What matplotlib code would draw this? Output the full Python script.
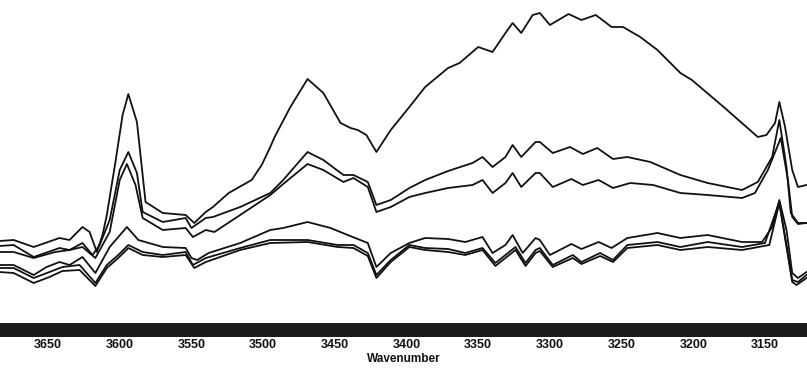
import matplotlib
matplotlib.use("Agg")
import matplotlib.pyplot as plt
from matplotlib import font_manager
from matplotlib.patches import Rectangle

# ---- data (wavenumber, absorbance-like arbitrary units) ----
wn_a = [3684, 3674, 3660, 3642, 3635, 3626, 3621, 3616, 3612, 3609, 3603, 3598, 3594, 3588, 3582,
        3570, 3554, 3548, 3540, 3535, 3524, 3508, 3501, 3495, 3492, 3481, 3469, 3458, 3446, 3439,
        3434, 3428, 3421, 3411, 3398, 3387, 3371, 3363, 3350, 3340, 3331, 3326, 3320, 3312, 3307,
        3300, 3287, 3278, 3268, 3257, 3249, 3237, 3225, 3209, 3201, 3178, 3155, 3149, 3143, 3140,
        3136, 3131, 3127, 3121]
ab_a = [0.89, 0.90, 0.83, 0.92, 0.90, 1.03, 0.98, 0.78, 0.95, 1.15, 1.68, 2.15, 2.36, 2.08, 1.28,
        1.17, 1.15, 1.07, 1.18, 1.23, 1.37, 1.50, 1.65, 1.83, 1.93, 2.23, 2.51, 2.37, 2.07, 2.02,
        2.00, 1.95, 1.78, 2.00, 2.23, 2.43, 2.62, 2.67, 2.83, 2.78, 2.97, 3.07, 2.97, 3.15, 3.17,
        3.05, 3.16, 3.10, 3.15, 3.03, 3.03, 2.93, 2.80, 2.57, 2.50, 2.22, 1.93, 1.95, 2.07, 2.28,
        2.03, 1.60, 1.43, 1.45]

wn_b = [3684, 3674, 3660, 3642, 3635, 3626, 3619, 3614, 3607, 3600, 3594, 3588, 3584, 3570, 3554,
        3550, 3540, 3535, 3516, 3495, 3486, 3469, 3458, 3444, 3437, 3427, 3421, 3411, 3398, 3387,
        3371, 3354, 3347, 3340, 3331, 3326, 3320, 3310, 3307, 3298, 3286, 3277, 3267, 3256, 3246,
        3230, 3209, 3190, 3166, 3155, 3145, 3140, 3135, 3132, 3127, 3121]
ab_b = [0.84, 0.85, 0.73, 0.82, 0.80, 0.87, 0.75, 0.85, 1.10, 1.60, 1.78, 1.57, 1.18, 1.08, 1.12,
        1.02, 1.12, 1.13, 1.23, 1.37, 1.50, 1.78, 1.70, 1.55, 1.55, 1.48, 1.25, 1.30, 1.42, 1.50,
        1.59, 1.67, 1.73, 1.63, 1.73, 1.85, 1.73, 1.88, 1.88, 1.77, 1.83, 1.76, 1.82, 1.71, 1.73,
        1.68, 1.55, 1.47, 1.40, 1.48, 1.73, 2.10, 1.63, 1.17, 1.07, 1.07]

wn_c = [3684, 3674, 3660, 3645, 3635, 3626, 3617, 3607, 3600, 3595, 3589, 3584, 3570, 3554, 3549,
        3540, 3534, 3516, 3495, 3486, 3469, 3458, 3444, 3437, 3427, 3421, 3411, 3398, 3387, 3371,
        3354, 3347, 3340, 3331, 3326, 3320, 3310, 3307, 3298, 3285, 3277, 3266, 3256, 3244, 3228,
        3209, 3190, 3166, 3157, 3148, 3139, 3134, 3131, 3127, 3121]
ab_c = [0.78, 0.78, 0.72, 0.78, 0.80, 0.83, 0.72, 0.98, 1.50, 1.66, 1.45, 1.12, 1.00, 1.02, 0.93,
        1.00, 0.98, 1.15, 1.35, 1.46, 1.66, 1.60, 1.48, 1.52, 1.43, 1.18, 1.23, 1.33, 1.37, 1.42,
        1.45, 1.50, 1.37, 1.47, 1.57, 1.43, 1.57, 1.57, 1.43, 1.51, 1.45, 1.50, 1.42, 1.47, 1.45,
        1.37, 1.35, 1.32, 1.37, 1.60, 1.92, 1.50, 1.13, 1.06, 1.07]

wn_d = [3684, 3674, 3660, 3651, 3642, 3635, 3626, 3617, 3607, 3595, 3587, 3570, 3554, 3550, 3546,
        3538, 3516, 3495, 3486, 3469, 3453, 3441, 3427, 3421, 3411, 3398, 3387, 3371, 3359, 3347,
        3340, 3331, 3326, 3319, 3310, 3307, 3300, 3285, 3278, 3266, 3257, 3246, 3225, 3209, 3190,
        3166, 3152, 3145, 3140, 3135, 3131, 3127, 3121]
ab_d = [0.65, 0.65, 0.55, 0.63, 0.68, 0.65, 0.73, 0.57, 0.83, 1.03, 0.90, 0.83, 0.82, 0.72, 0.70,
        0.77, 0.87, 1.00, 1.02, 1.08, 1.02, 0.95, 0.87, 0.63, 0.77, 0.87, 0.92, 0.91, 0.88, 0.93,
        0.77, 0.85, 0.95, 0.77, 0.92, 0.90, 0.75, 0.86, 0.81, 0.88, 0.82, 0.92, 0.97, 0.92, 0.95,
        0.88, 0.88, 1.03, 1.30, 1.00, 0.57, 0.52, 0.58]

wn_e = [3684, 3674, 3660, 3649, 3640, 3628, 3617, 3609, 3601, 3594, 3584, 3570, 3554, 3549, 3540,
        3516, 3495, 3469, 3448, 3437, 3427, 3421, 3411, 3398, 3387, 3371, 3359, 3347, 3338, 3331,
        3324, 3317, 3310, 3307, 3298, 3284, 3278, 3265, 3256, 3246, 3225, 3209, 3190, 3166, 3150,
        3140, 3131, 3127, 3121]
ab_e = [0.62, 0.62, 0.52, 0.58, 0.63, 0.65, 0.47, 0.65, 0.75, 0.85, 0.78, 0.75, 0.78, 0.65, 0.72,
        0.82, 0.90, 0.90, 0.85, 0.85, 0.77, 0.55, 0.70, 0.85, 0.82, 0.81, 0.77, 0.82, 0.67, 0.75,
        0.83, 0.67, 0.80, 0.82, 0.65, 0.75, 0.68, 0.77, 0.70, 0.85, 0.88, 0.83, 0.88, 0.83, 0.87,
        1.28, 0.50, 0.48, 0.55]

wn_f = [3684, 3674, 3660, 3649, 3640, 3628, 3617, 3609, 3601, 3594, 3584, 3570, 3554, 3548, 3540,
        3516, 3495, 3469, 3448, 3437, 3427, 3421, 3411, 3398, 3387, 3371, 3359, 3347, 3338, 3331,
        3324, 3317, 3310, 3307, 3298, 3284, 3278, 3265, 3256, 3246, 3225, 3209, 3190, 3166, 3147,
        3140, 3131, 3128, 3121]
ab_f = [0.58, 0.57, 0.47, 0.53, 0.59, 0.60, 0.44, 0.62, 0.72, 0.82, 0.75, 0.73, 0.75, 0.62, 0.68,
        0.80, 0.87, 0.88, 0.83, 0.82, 0.74, 0.52, 0.68, 0.83, 0.80, 0.78, 0.75, 0.80, 0.64, 0.72,
        0.80, 0.64, 0.77, 0.79, 0.63, 0.72, 0.66, 0.74, 0.68, 0.82, 0.85, 0.80, 0.83, 0.80, 0.85,
        1.27, 0.48, 0.45, 0.52]

tick_values = [3650, 3600, 3550, 3500, 3450, 3400, 3350, 3300, 3250, 3200, 3150]
x_label = "Wavenumber"

# ---- fonts ----
names = {f.name for f in font_manager.fontManager.ttflist}
tick_family = "Liberation Sans Narrow" if "Liberation Sans Narrow" in names else "Liberation Sans"

W, H = 807, 369
fig = plt.figure(figsize=(W / 100, H / 100), dpi=100)
ax_bottom_px = 330
ax = fig.add_axes([0, (H - ax_bottom_px) / H, 1, ax_bottom_px / H])

for wn, ab in [(wn_a, ab_a), (wn_b, ab_b), (wn_c, ab_c), (wn_d, ab_d), (wn_e, ab_e), (wn_f, ab_f)]:
    ax.plot(wn, ab, color="#111111", lw=1.3, solid_joinstyle="round")

ax.set_xlim(3683.5, 3120.7)
ax.set_ylim(0, 3.30)
ax.set_yticks([])
for s in ["top", "right", "left", "bottom"]:
    ax.spines[s].set_visible(False)

# dark scanned axis bar
bar_top, bar_bot = 323, 337
fig.patches.append(Rectangle((0, (H - bar_bot) / H), 1, (bar_bot - bar_top) / H,
                             transform=fig.transFigure, facecolor="#1c1c1c",
                             edgecolor="none", zorder=5))

ax.set_xticks(tick_values)
ax.set_xticklabels([str(v) for v in tick_values], fontfamily=tick_family,
                   fontweight="bold", fontsize=9)
ax.tick_params(axis="x", length=0, pad=6.5, colors="#111111")
ax.set_xlabel(x_label, fontfamily=tick_family, fontweight="bold", fontsize=8.5,
              labelpad=1.5, color="#111111")

fig.savefig("out.png", dpi=100, facecolor="white")
